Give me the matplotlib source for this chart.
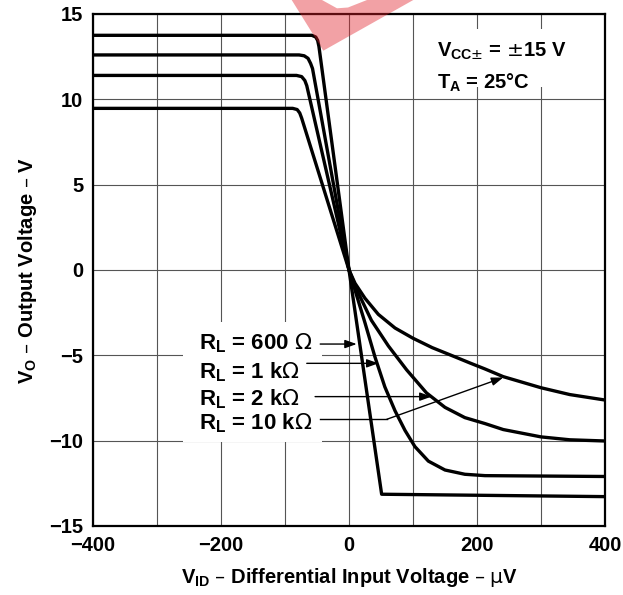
import matplotlib
matplotlib.use('Agg')
import matplotlib.pyplot as plt
from matplotlib.patches import Rectangle, Polygon

plt.rcParams['font.family'] = ['Liberation Sans', 'DejaVu Sans']
plt.rcParams['mathtext.fontset'] = 'dejavusans'

# V_ID in uV, V_O in V
vid_600 = [-400, -58, -52, -49, -47, 0, 51, 400]
vo_600 = [13.75, 13.75, 13.65, 13.45, 13.1, 0, -13.14, -13.28]

vid_1k = [-400, -78, -70, -64, -60, -57, 0, 12, 25, 40.6, 56, 71.9, 87.5, 103, 124, 150, 181, 212.5, 400]
vo_1k = [12.6, 12.6, 12.55, 12.4, 12.1, 11.8, 0, -1.5, -3.1, -5.1, -6.85, -8.25, -9.4, -10.35, -11.2,
         -11.72, -11.97, -12.05, -12.1]

vid_2k = [-400, -82, -74, -69, -66, 0, 12, 35, 61.5, 90, 121, 150, 181, 212.5, 241, 300, 345, 400]
vo_2k = [11.4, 11.4, 11.33, 11.1, 10.8, 0, -1.15, -2.95, -4.45, -5.85, -7.2, -8.05, -8.65, -9.0, -9.35,
         -9.78, -9.95, -10.02]

vid_10k = [-400, -88, -81, -77, -74, 0, 9.4, 25, 45.8, 71.9, 100, 130, 163, 189, 212.5, 241, 300, 345, 400]
vo_10k = [9.47, 9.47, 9.4, 9.2, 8.9, 0, -0.78, -1.66, -2.6, -3.4, -4.0, -4.55, -5.05, -5.45, -5.8, -6.25,
          -6.9, -7.3, -7.62]

curves = [(vid_600, vo_600), (vid_1k, vo_1k), (vid_2k, vo_2k), (vid_10k, vo_10k)]

rl_labels = [r'R$_\mathregular{L}$ = 600 $\mathrm{\Omega}$',
             r'R$_\mathregular{L}$ = 1 k$\mathrm{\Omega}$',
             r'R$_\mathregular{L}$ = 2 k$\mathrm{\Omega}$',
             r'R$_\mathregular{L}$ = 10 k$\mathrm{\Omega}$']

x_major = [-400, -200, 0, 200, 400]
x_minor = [-300, -100, 100, 300]
y_ticks = [-15, -10, -5, 0, 5, 10, 15]

fig = plt.figure(figsize=(6.23, 5.95), dpi=100)
ax = fig.add_axes([0.1493, 0.1160, 0.8218, 0.8605])

for vx, vy in curves:
    ax.plot(vx, vy, color='black', lw=2.4, solid_joinstyle='round', zorder=3)

ax.set_xlim(-400, 400)
ax.set_ylim(-15, 15)
ax.set_xticks(x_major)
ax.set_xticks(x_minor, minor=True)
ax.set_yticks(y_ticks)
ax.set_axisbelow(True)
ax.grid(which='both', color='#555555', lw=0.8)
ax.tick_params(which='both', length=0, pad=7, labelsize=14.5)
plt.setp(ax.get_xticklabels() + ax.get_yticklabels(), fontweight='bold')
for s in ax.spines.values():
    s.set_linewidth(1.6)

ax.set_xlabel(r'V$_\mathregular{ID}$ – Differential Input Voltage – $\mathrm{\mu}$V',
              fontsize=14.5, fontweight='bold', labelpad=8)
ax.set_ylabel(r'V$_\mathregular{O}$ – Output Voltage – V', fontsize=14.5, fontweight='bold', labelpad=7)

# white patches behind the labels, as in the datasheet
ax.add_patch(Rectangle((-259, -10.08), 217, 7.03, fc='white', ec='none', zorder=1))
ax.add_patch(Rectangle((111, 10.72), 249, 3.38, fc='white', ec='none', zorder=1))

ax.text(137, 12.5, r'V$_{\mathregular{CC}{\pm}}$ = $\pm$15 V', fontsize=14.5, fontweight='bold',
        va='baseline', zorder=4)
ax.text(137, 10.64, r'T$_\mathregular{A}$ = 25°C', fontsize=14.5, fontweight='bold',
        va='baseline', zorder=4)

label_y = [-4.65, -6.35, -7.91, -9.37]
for lab, ly in zip(rl_labels, label_y):
    ax.text(-234, ly, lab, fontsize=16, fontweight='bold', va='baseline', zorder=4)

arrow = dict(arrowstyle='-|>,head_length=0.7,head_width=0.25', color='black', lw=1,
             shrinkA=0, shrinkB=0, mutation_scale=10)
ax.annotate('', xy=(12, -4.34), xytext=(-45, -4.34), arrowprops=arrow, zorder=4)
ax.annotate('', xy=(46, -5.47), xytext=(-66, -5.47), arrowprops=arrow, zorder=4)
ax.annotate('', xy=(129, -7.42), xytext=(-53, -7.42), arrowprops=arrow, zorder=4)
ax.plot([-45, 59], [-8.75, -8.75], color='black', lw=1, zorder=4)
ax.annotate('', xy=(241, -6.3), xytext=(59, -8.75), arrowprops=arrow, zorder=4)

# pink watermark fragment at the top
W, H = 623, 595
wm_px = [(291.7, 0), (322, 0), (337, 8.3), (348, 7.5), (367, 0), (413.3, 0), (323.3, 50.7)]
fig.add_artist(Polygon([(x / W, 1 - y / H) for x, y in wm_px], closed=True,
                       transform=fig.transFigure, fc='#e0202a', ec='none', alpha=0.42, zorder=10))

fig.savefig('out.png', dpi=100)
